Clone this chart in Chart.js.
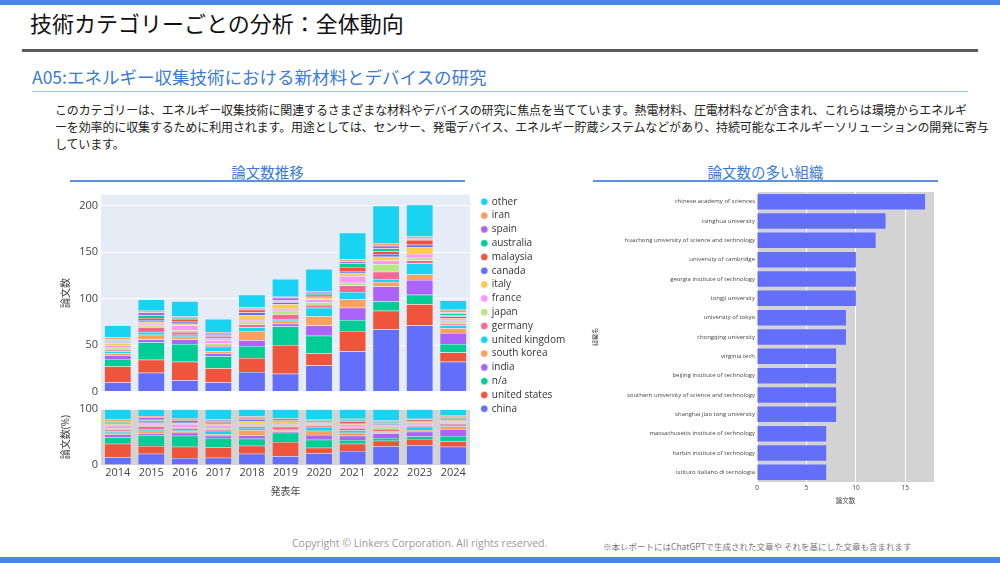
<!DOCTYPE html>
<html lang="ja">
<head>
<meta charset="utf-8">
<script src="https://cdn.jsdelivr.net/npm/chart.js@4"></script>
<style>
  body { margin: 0; width: 1000px; height: 563px; position: relative; overflow: hidden; background: #fff;
         font-family: "Noto Sans CJK JP", sans-serif; }
  .abs { position: absolute; white-space: nowrap; }
  canvas { position: absolute; }
</style>
</head>
<body>
<div class="abs" style="left:0;top:0;width:1000px;height:5px;background:#4a86e8"></div>
<div class="abs" style="left:30px;top:8px;font-size:22px;line-height:28px;color:#111">技術カテゴリーごとの分析：全体動向</div>
<div class="abs" style="left:22px;top:49px;width:956px;height:3px;background:#5a5a5a"></div>
<div class="abs" style="left:32px;top:65px;font-size:17.5px;line-height:24px;color:#3a7bd5">A05:エネルギー収集技術における新材料とデバイスの研究</div>
<div class="abs" style="left:32px;top:91px;width:936px;height:1px;background:#9cc3ea"></div>
<div class="abs" style="left:55px;top:101px;font-size:12px;line-height:17px;letter-spacing:-0.14px;color:#222">このカテゴリーは、エネルギー収集技術に関連するさまざまな材料やデバイスの研究に焦点を当てています。熱電材料、圧電材料などが含まれ、これらは環境からエネルギ<br>ーを効率的に収集するために利用されます。用途としては、センサー、発電デバイス、エネルギー貯蔵システムなどがあり、持続可能なエネルギーソリューションの開発に寄与<br>しています。</div>

<div class="abs" style="left:70px;top:163px;width:395px;text-align:center;font-size:14.5px;line-height:18px;color:#3a7bd5">論文数推移</div>
<div class="abs" style="left:70px;top:180px;width:395px;height:2px;background:#5b93dc"></div>
<div class="abs" style="left:593px;top:163px;width:345px;text-align:center;font-size:14.5px;line-height:18px;color:#3a7bd5">論文数の多い組織</div>
<div class="abs" style="left:593px;top:180px;width:345px;height:2px;background:#5b93dc"></div>

<canvas id="trend" width="520" height="315" style="left:60px;top:185px"></canvas>
<canvas id="orgs" width="355" height="320" style="left:590px;top:185px"></canvas>

<div class="abs" style="left:292px;top:536px;font-family:'Open Sans',sans-serif;font-size:10.5px;line-height:14px;color:#9a9a9a">Copyright © Linkers Corporation. All rights reserved.</div>
<div class="abs" style="left:603px;top:540px;font-size:8.5px;line-height:12px;color:#777">※本レポートにはChatGPTで生成された文章や それを基にした文章も含まれます</div>
<div class="abs" style="left:0;top:557px;width:1000px;height:6px;background:#4a86e8"></div>

<script>
Chart.defaults.font.family = "'Open Sans', 'Noto Sans CJK JP', sans-serif";
Chart.defaults.animation = false;

const years = ['2014', '2015', '2016', '2017', '2018', '2019', '2020', '2021', '2022', '2023', '2024'];

// papers per year, one array per country (stack order, bottom first)
const china         = [10, 20, 12, 10, 21, 19, 28, 43, 67, 71, 32];
const unitedStates  = [17, 14, 20, 15, 15, 31, 13, 22, 20, 23, 10];
const na            = [8, 19, 19, 13, 13, 20, 19, 12, 10, 10, 9];
const india         = [4, 3, 5, 3, 6, 3, 11, 13, 16, 16, 12];
const southKorea    = [2, 5, 3, 2, 10, 3, 10, 9, 5, 6, 5];
const unitedKingdom = [2, 3, 2, 5, 4, 2, 9, 8, 3, 12, 3];
const germany       = [2, 5, 3, 2, 3, 5, 3, 7, 8, 3, 2];
const japan         = [2, 2, 2, 2, 3, 4, 3, 3, 8, 3, 2];
const france        = [3, 2, 5, 3, 2, 2, 3, 7, 4, 4, 2];
const italy         = [2, 2, 2, 2, 5, 5, 2, 3, 4, 7, 2];
const canada        = [1, 2, 2, 2, 3, 2, 1, 2, 3, 3, 2];
const malaysia      = [1, 2, 3, 1, 3, 1, 2, 5, 3, 5, 1];
const australia     = [1, 3, 1, 1, 1, 1, 2, 4, 3, 1, 2];
const spain         = [1, 3, 1, 2, 1, 3, 1, 2, 3, 1, 1];
const iran          = [2, 2, 1, 1, 1, 1, 1, 2, 3, 2, 3];
const other         = [13, 12, 16, 14, 13, 19, 24, 29, 40, 34, 10];

const countries = ['china', 'united states', 'n/a', 'india', 'south korea', 'united kingdom', 'germany', 'japan',
    'france', 'italy', 'canada', 'malaysia', 'australia', 'spain', 'iran', 'other'];
const countryData = [china, unitedStates, na, india, southKorea, unitedKingdom, germany, japan,
    france, italy, canada, malaysia, australia, spain, iran, other];
const colors = ['#636EFA', '#EF553B', '#00CC96', '#AB63FA', '#FFA15A', '#19D3F3', '#FF6692', '#B6E880',
    '#FF97FF', '#FECB52', '#636EFA', '#EF553B', '#00CC96', '#AB63FA', '#FFA15A', '#19D3F3'];

const orgNames = ['chinese academy of sciences', 'tsinghua university', 'huazhong university of science and technology',
    'university of cambridge', 'georgia institute of technology', 'tongji university', 'university of tokyo',
    'chongqing university', 'virginia tech', 'beijing institute of technology',
    'southern university of science and technology', 'shanghai jiao tong university',
    'massachusetts institute of technology', 'harbin institute of technology', 'istituto italiano di tecnologia'];
const orgCounts = [17, 13, 12, 10, 10, 10, 9, 9, 8, 8, 8, 8, 7, 7, 7];

// fills the plot area behind each value axis
const plotBg = {
    id: 'plotBg',
    beforeDraw(chart, args, opts) {
        const ctx = chart.ctx;
        const area = chart.chartArea;
        ctx.save();
        for (const id in opts.fills) {
            const s = chart.scales[id];
            if (!s) continue;
            const top = chart.options.indexAxis === 'y' ? area.top : s.top;
            const bottom = chart.options.indexAxis === 'y' ? area.bottom : s.bottom;
            ctx.fillStyle = opts.fills[id];
            ctx.fillRect(area.left, top, area.right - area.left, bottom - top);
        }
        ctx.restore();
    }
};

const totals = years.map((y, i) => countryData.reduce((sum, arr) => sum + arr[i], 0));

var datasets = [];
countries.forEach(function (name, k) {
    datasets.push({
        label: name,
        data: countryData[k],
        backgroundColor: colors[k],
        borderColor: '#E5ECF6',
        borderWidth: 0.5,
        yAxisID: 'yTop',
        barPercentage: 0.8,
        categoryPercentage: 1
    });
});
countries.forEach(function (name, k) {
    datasets.push({
        label: name + ' (%)',
        data: countryData[k].map((v, i) => v / totals[i] * 100),
        backgroundColor: colors[k],
        borderColor: '#E5ECF6',
        borderWidth: 0.5,
        yAxisID: 'yBot',
        barPercentage: 0.8,
        categoryPercentage: 1
    });
});

const tickColor = '#444';

new Chart(document.getElementById('trend'), {
    type: 'bar',
    data: { labels: years, datasets: datasets },
    plugins: [plotBg],
    options: {
        responsive: false,
        layout: { padding: { top: 8, right: 12, bottom: 2, left: 0 } },
        plugins: {
            plotBg: { fills: { yTop: '#E5ECF6', yBot: '#D3D3D3' } },
            tooltip: { enabled: false },
            legend: {
                position: 'right',
                align: 'start',
                reverse: true,
                maxWidth: 90,
                labels: {
                    filter: item => item.datasetIndex < countries.length,
                    usePointStyle: true,
                    pointStyle: 'circle',
                    boxWidth: 5,
                    boxHeight: 5,
                    padding: 3.8,
                    color: '#333',
                    font: { size: 10 }
                }
            }
        },
        scales: {
            x: {
                stacked: true,
                offset: true,
                grid: { display: false, drawTicks: false },
                border: { display: false },
                ticks: { color: tickColor, font: { size: 11 }, padding: 1 },
                title: { display: true, text: '発表年', color: tickColor, font: { size: 10 }, padding: { top: 2, bottom: 0 } },
                afterFit(s) { s.height = 33; }
            },
            yBot: {
                stack: 'rows', stackWeight: 56, weight: 1,
                stacked: true, min: 0, max: 100,
                ticks: { stepSize: 50, color: tickColor, font: { size: 11 }, padding: 3 },
                grid: { color: '#fff', drawTicks: false },
                border: { display: false },
                title: { display: true, text: '論文数(%)', color: tickColor, font: { size: 10 }, padding: 0 },
                afterFit(s) { s.width = 41; }
            },
            yGap: {
                stack: 'rows', stackWeight: 18, weight: 2,
                ticks: { display: false },
                grid: { display: false, drawTicks: false },
                border: { display: false },
                afterFit(s) { s.width = 41; }
            },
            yTop: {
                stack: 'rows', stackWeight: 198, weight: 3,
                stacked: true, min: 0, max: 212,
                ticks: { stepSize: 50, includeBounds: false, color: tickColor, font: { size: 11 }, padding: 3 },
                grid: { color: '#fff', drawTicks: false },
                border: { display: false },
                title: { display: true, text: '論文数', color: tickColor, font: { size: 10 }, padding: 0 },
                afterFit(s) { s.width = 41; }
            },
            // empty axis that keeps the legend a little away from the plot
            spacer: {
                position: 'right',
                ticks: { display: false },
                grid: { display: false, drawTicks: false },
                border: { display: false },
                afterFit(s) { s.width = 8; }
            }
        }
    }
});

new Chart(document.getElementById('orgs'), {
    type: 'bar',
    data: {
        labels: orgNames,
        datasets: [{ data: orgCounts, backgroundColor: '#636EFA', barPercentage: 0.8, categoryPercentage: 1 }]
    },
    plugins: [plotBg],
    options: {
        responsive: false,
        indexAxis: 'y',
        layout: { padding: { top: 7, right: 11, bottom: 0, left: 0 } },
        plugins: {
            plotBg: { fills: { x: '#D3D3D3' } },
            legend: { display: false },
            tooltip: { enabled: false }
        },
        scales: {
            x: {
                min: 0, max: 17.9,
                ticks: { stepSize: 5, includeBounds: false, color: tickColor, font: { size: 6.5 }, padding: 2 },
                grid: { color: '#fff', drawTicks: false },
                border: { display: false },
                title: { display: true, text: '論文数', color: tickColor, font: { size: 6.5 }, padding: { top: 4, bottom: 0 } },
                afterFit(s) { s.height = 23; }
            },
            y: {
                ticks: { autoSkip: false, color: tickColor, font: { size: 6 }, padding: 2 },
                grid: { display: false, drawTicks: false },
                border: { display: false },
                title: { display: true, text: '組織名', color: tickColor, font: { size: 6 }, padding: 2 },
                afterFit(s) { s.width = 167; }
            }
        }
    }
});
</script>
</body>
</html>
